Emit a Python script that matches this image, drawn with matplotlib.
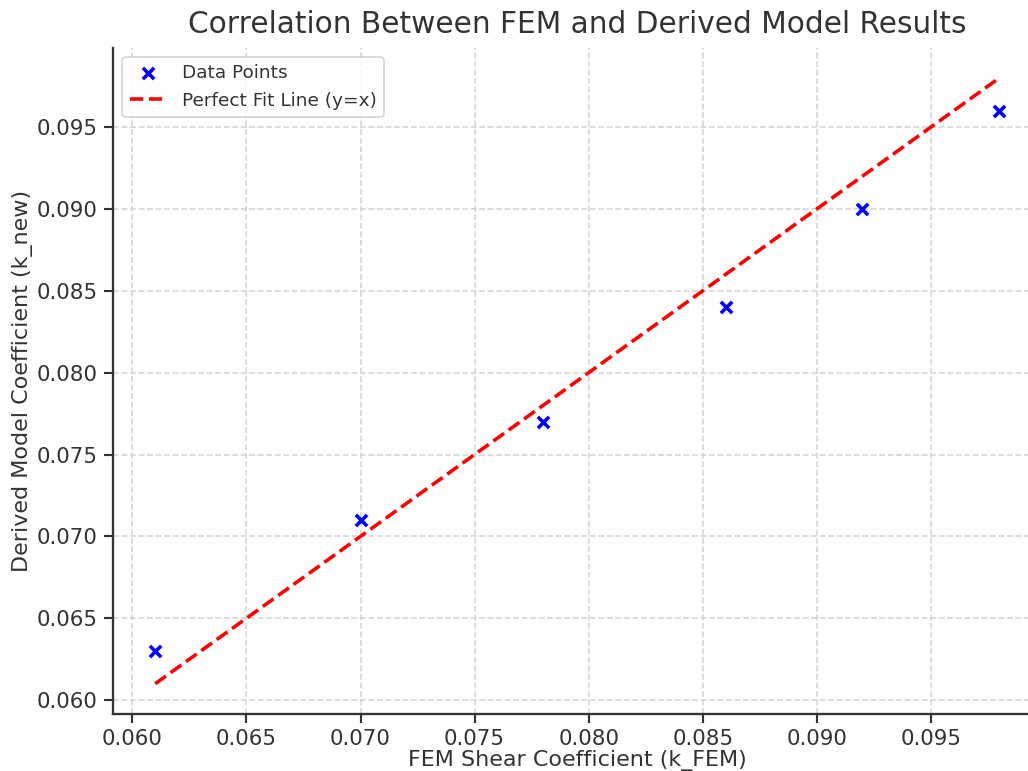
import numpy as np
import matplotlib.pyplot as plt

# FEM vs derived model coefficients
k_fem = [0.061, 0.070, 0.078, 0.086, 0.092, 0.098]
k_new = [0.063, 0.071, 0.077, 0.084, 0.090, 0.096]

plt.rcParams['font.family'] = 'DejaVu Sans'
plt.rcParams['text.color'] = '#333333'
plt.rcParams['axes.labelcolor'] = '#333333'
plt.rcParams['xtick.color'] = '#333333'
plt.rcParams['ytick.color'] = '#333333'

fig = plt.figure(figsize=(8.0, 6.0), dpi=128.5)
ax = fig.add_axes([0.1099, 0.0739, 0.9033, 0.8643])

ax.scatter(k_fem, k_new, color='blue', marker='x', s=40, linewidths=2, label='Data Points', zorder=3)
ax.plot([min(k_fem), max(k_fem)], [min(k_fem), max(k_fem)], 'r--', linewidth=2, label='Perfect Fit Line (y=x)')

ax.set_title('Correlation Between FEM and Derived Model Results', fontsize=16.6, pad=8)
ax.set_xlabel('FEM Shear Coefficient (k_FEM)', fontsize=12.5, labelpad=0.5)
ax.set_ylabel('Derived Model Coefficient (k_new)', fontsize=12.5, labelpad=2)
ax.tick_params(labelsize=12, width=1.2, length=5)
ax.grid(True, linestyle='--', color='#cccccc', linewidth=0.9, alpha=0.85)
ax.set_axisbelow(True)
for s in ['top', 'right']:
    ax.spines[s].set_visible(False)
for s in ['left', 'bottom']:
    ax.spines[s].set_color('#333333')
    ax.spines[s].set_linewidth(1.3)
ax.legend(loc='upper left', fontsize=10.4)

fig.savefig('out.png', dpi=128.5)
